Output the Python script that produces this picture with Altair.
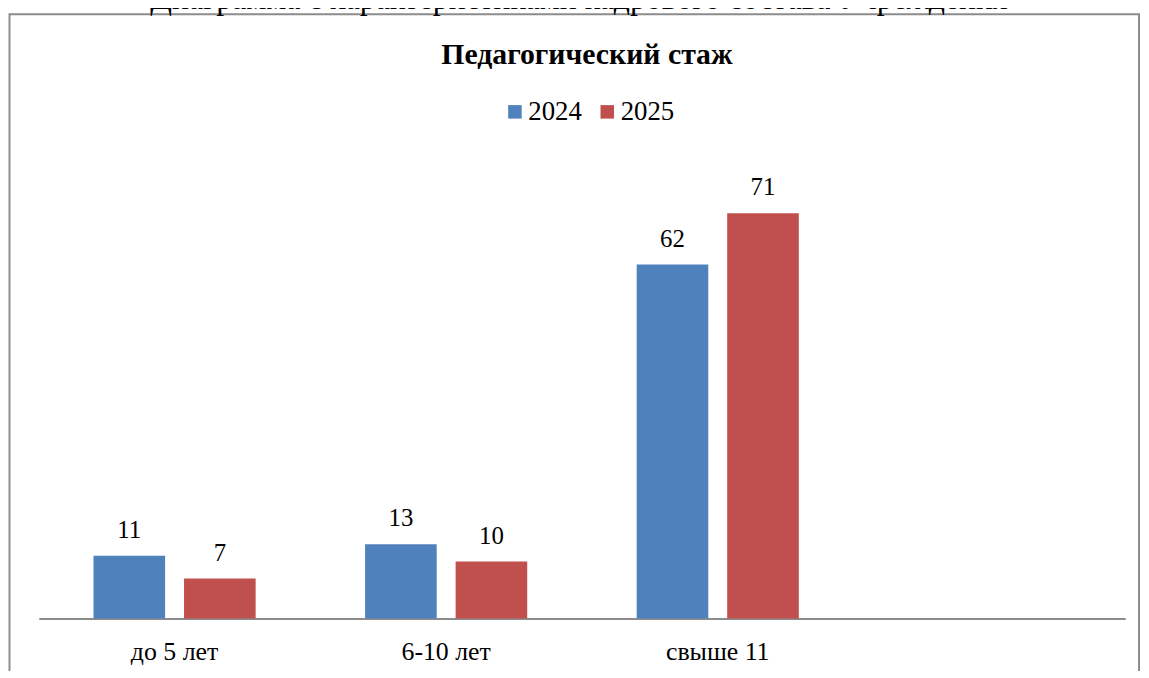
import altair as alt
import pandas as pd

# ---- data ----
categories = ["до 5 лет", "6-10 лет", "свыше 11"]
empty_slot = [" "]
years = ["2024", "2025"]
values_2024 = [11, 13, 62]
values_2025 = [7, 10, 71]
colors = ["#4F81BD", "#C0504D"]
chart_title = "Педагогический стаж"
top_caption = "Диаграмма с характеристиками кадрового состава Учреждения"

rows = []
for c, v in zip(categories, values_2024):
    rows.append({"cat": c, "year": "2024", "value": v})
for c, v in zip(categories, values_2025):
    rows.append({"cat": c, "year": "2025", "value": v})
df = pd.DataFrame(rows)

FONT = "Liberation Serif"
W, H = 1094, 460

x_enc = alt.X(
    "cat:N",
    sort=categories + empty_slot,
    scale=alt.Scale(domain=categories + empty_slot, paddingInner=0, paddingOuter=0),
    axis=alt.Axis(
        title=None, labelAngle=0, ticks=False, grid=False,
        domainColor="#8c8c8c", domainWidth=2,
        labelFont=FONT, labelFontSize=26, labelColor="black",
        labelBaseline="alphabetic", labelPadding=41,
    ),
)
xo_enc = alt.XOffset(
    "year:N",
    scale=alt.Scale(domain=years, paddingInner=0.209, paddingOuter=0.6045),
)
y_enc = alt.Y("value:Q", scale=alt.Scale(domain=[0, 80], nice=False, zero=True), axis=None)
color_enc = alt.Color(
    "year:N",
    scale=alt.Scale(domain=years, range=colors),
    legend=alt.Legend(
        orient="none", direction="horizontal", legendX=466, legendY=-64,
        title=None, symbolType="square", symbolSize=185, symbolStrokeWidth=0,
        labelFont=FONT, labelFontSize=27, labelColor="black",
        columnPadding=12, padding=0, labelOffset=0,
    ),
)

bars = alt.Chart(df).mark_bar().encode(x=x_enc, xOffset=xo_enc, y=y_enc, color=color_enc)
labels = alt.Chart(df).mark_text(
    dy=-18, baseline="alphabetic", font=FONT, fontSize=25, color="black"
).encode(x=x_enc, xOffset=xo_enc, y=y_enc, text="value:Q")

one = alt.Data(values=[{"k": 0}])
frame = alt.Chart(one).mark_rect(fillOpacity=0, stroke="#8c8c8c", strokeWidth=2).encode(
    x=alt.value(-29.5), x2=alt.value(1108), y=alt.value(-148.5), y2=alt.value(540)
)
title_mark = alt.Chart(one).mark_text(
    font=FONT, fontSize=30, fontWeight="bold", color="black", align="center", baseline="alphabetic"
).encode(x=alt.value(552), y=alt.value(-98.5), text=alt.value(chart_title))
caption_mark = alt.Chart(one).mark_text(
    font=FONT, fontSize=32, color="black", align="center", baseline="alphabetic"
).encode(x=alt.value(544), y=alt.value(-153.5), text=alt.value(top_caption))

chart = alt.layer(frame, caption_mark, title_mark, bars, labels).properties(
    width=W, height=H,
    autosize=alt.AutoSizeParams(type="none"),
    padding={"left": 31, "top": 152.5, "right": 16, "bottom": 50},
    background="white",
).configure_view(strokeWidth=0)

chart.save("out.html", embed_options={"renderer": "svg", "actions": False})
